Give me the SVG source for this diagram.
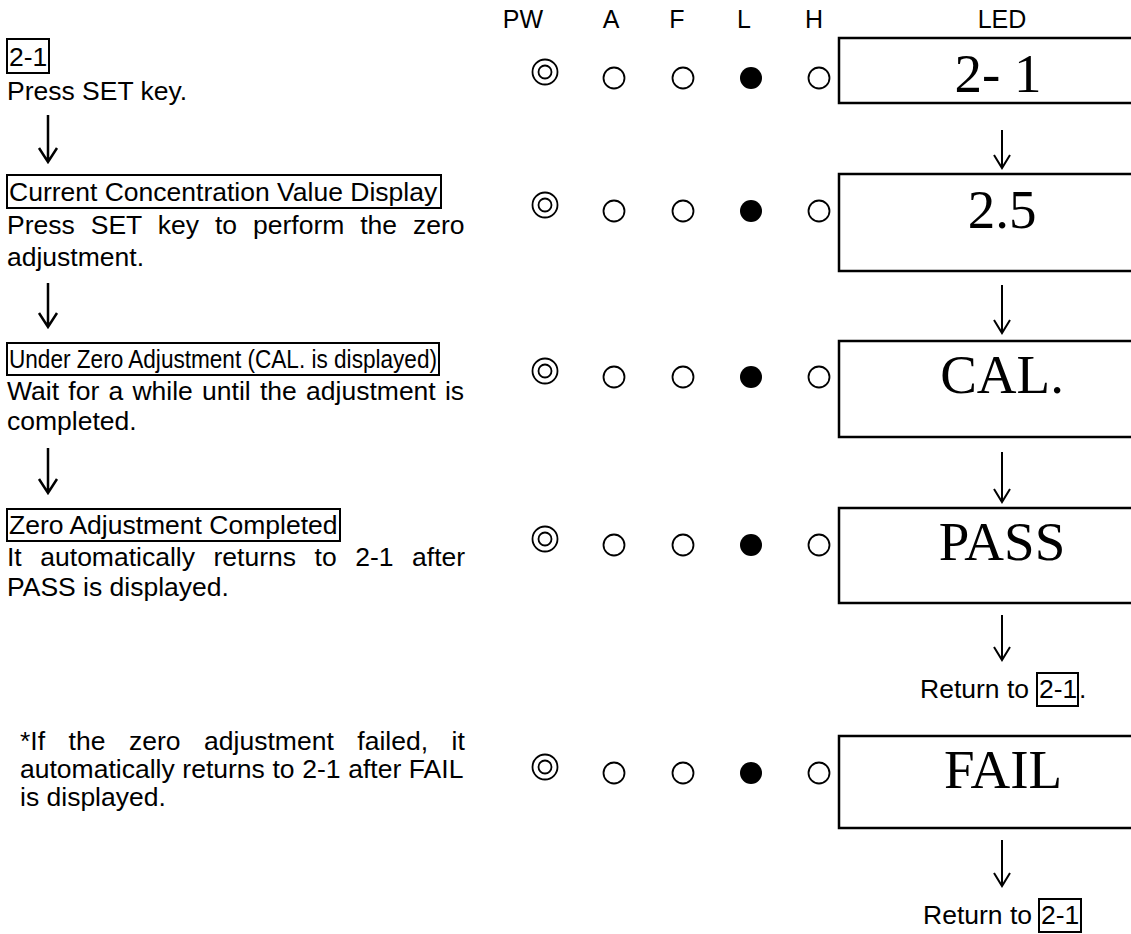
<svg xmlns="http://www.w3.org/2000/svg" xmlns:xlink="http://www.w3.org/1999/xlink" width="1131" height="934" viewBox="0 0 1131 934">
<style>
.t{font-family:"Liberation Sans",Arial,sans-serif;font-size:26.5px;fill:#000}
.h{font-family:"Liberation Sans",Arial,sans-serif;font-size:25px;fill:#000;text-anchor:middle}
.led{font-family:"Liberation Serif","Times New Roman",serif;font-size:55px;fill:#000;text-anchor:middle}
.box{fill:none;stroke:#000;stroke-width:2}
.lbox{fill:#fff;stroke:#000;stroke-width:2.5}
.ind{fill:none;stroke:#000;stroke-width:1.8}
.arr{fill:none;stroke:#000;stroke-width:2}
.arrL{fill:none;stroke:#000;stroke-width:2.5}
</style>
<defs>
<g id="pw"><circle r="12.5" class="ind" stroke-width="2.4"/><circle r="6.5" class="ind" stroke-width="2.4"/></g>
<circle id="off" r="10.5" class="ind"/>
<circle id="on" r="11" fill="#000"/>
</defs>
<rect width="1131" height="934" fill="#fff"/>

<g id="headers">
<text class="h" x="523" y="28">PW</text>
<text class="h" x="611" y="28">A</text>
<text class="h" x="677" y="28">F</text>
<text class="h" x="744" y="28">L</text>
<text class="h" x="814" y="28">H</text>
<text class="h" x="1002" y="28">LED</text>
</g>

<g id="step1">
<rect class="box" x="7" y="39" width="42" height="34"/>
<text class="t" x="9" y="66">2-1</text>
<text class="t" x="7" y="100">Press SET key.</text>
</g>
<g id="step2">
<rect class="box" x="7" y="175" width="434" height="33"/>
<text class="t" x="9" y="201">Current Concentration Value Display</text>
<text class="t" x="7" y="234" word-spacing="8.6">Press SET key to perform the zero</text>
<text class="t" x="7" y="266">adjustment.</text>
</g>
<g id="step3">
<rect class="box" x="7" y="343" width="432" height="32"/>
<text class="t" x="9" y="368" textLength="428" lengthAdjust="spacingAndGlyphs">Under Zero Adjustment (CAL. is displayed)</text>
<text class="t" x="7" y="400" word-spacing="1.9">Wait for a while until the adjustment is</text>
<text class="t" x="7" y="430">completed.</text>
</g>
<g id="step4">
<rect class="box" x="7" y="509" width="333" height="32"/>
<text class="t" x="9" y="534">Zero Adjustment Completed</text>
<text class="t" x="7" y="566" word-spacing="11.2">It automatically returns to 2-1 after</text>
<text class="t" x="7" y="596">PASS is displayed.</text>
</g>
<g id="note">
<text class="t" x="20" y="750" word-spacing="16.2">*If the zero adjustment failed, it</text>
<text class="t" x="20" y="778" word-spacing="0.3">automatically returns to 2-1 after FAIL</text>
<text class="t" x="20" y="806">is displayed.</text>
</g>

<g id="indicators">
<use xlink:href="#pw" x="545" y="72"/><use xlink:href="#off" x="614" y="78"/><use xlink:href="#off" x="683" y="78"/><use xlink:href="#on" x="751" y="78"/><use xlink:href="#off" x="819" y="78"/>
<use xlink:href="#pw" x="545" y="205"/><use xlink:href="#off" x="614" y="211"/><use xlink:href="#off" x="683" y="211"/><use xlink:href="#on" x="751" y="211"/><use xlink:href="#off" x="819" y="211"/>
<use xlink:href="#pw" x="545" y="371"/><use xlink:href="#off" x="614" y="377"/><use xlink:href="#off" x="683" y="377"/><use xlink:href="#on" x="751" y="377"/><use xlink:href="#off" x="819" y="377"/>
<use xlink:href="#pw" x="545" y="539"/><use xlink:href="#off" x="614" y="545"/><use xlink:href="#off" x="683" y="545"/><use xlink:href="#on" x="751" y="545"/><use xlink:href="#off" x="819" y="545"/>
<use xlink:href="#pw" x="545" y="767"/><use xlink:href="#off" x="614" y="773"/><use xlink:href="#off" x="683" y="773"/><use xlink:href="#on" x="751" y="773"/><use xlink:href="#off" x="819" y="773"/>
</g>

<g id="led1"><rect class="lbox" x="839" y="38" width="320" height="65"/><text class="led" x="998" y="92">2- 1</text></g>
<g id="led2"><rect class="lbox" x="839" y="174" width="320" height="97"/><text class="led" x="1002" y="228">2.5</text></g>
<g id="led3"><rect class="lbox" x="839" y="341" width="320" height="96"/><text class="led" x="1002" y="393">CAL.</text></g>
<g id="led4"><rect class="lbox" x="839" y="508" width="320" height="95"/><text class="led" x="1002" y="560">PASS</text></g>
<g id="led5"><rect class="lbox" x="839" y="736" width="320" height="92"/><text class="led" x="1003" y="788">FAIL</text></g>

<g id="return1">
<text class="t" x="920" y="698">Return to</text>
<rect class="box" x="1037" y="673" width="41" height="33"/>
<text class="t" x="1039" y="698">2-1</text>
<text class="t" x="1079" y="698">.</text>
</g>
<g id="return2">
<text class="t" x="923" y="924">Return to</text>
<rect class="box" x="1039" y="899" width="42" height="33"/>
<text class="t" x="1041" y="924">2-1</text>
</g>

<g id="connectors">
<path class="arrL" d="M48,115 V162 M39,148 L48,162 L57,148"/>
<path class="arrL" d="M48,283 V327 M39,313 L48,327 L57,313"/>
<path class="arrL" d="M48,448 V493 M39,479 L48,493 L57,479"/>
<path class="arr" d="M1002,130 V168 M994,155 L1002,168 L1010,155"/>
<path class="arr" d="M1002,285 V333 M994,320 L1002,333 L1010,320"/>
<path class="arr" d="M1002,452 V502 M994,489 L1002,502 L1010,489"/>
<path class="arr" d="M1002,615 V660 M994,647 L1002,660 L1010,647"/>
<path class="arr" d="M1002,840 V886 M994,873 L1002,886 L1010,873"/>
</g>
</svg>
